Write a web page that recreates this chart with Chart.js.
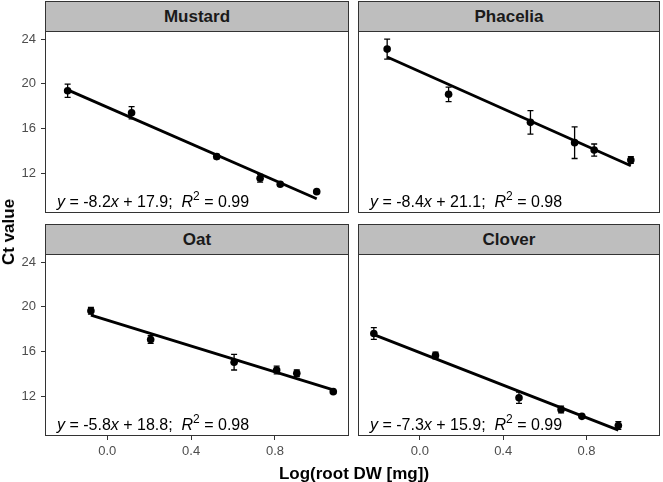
<!DOCTYPE html>
<html>
<head>
<meta charset="utf-8">
<script src="https://cdn.jsdelivr.net/npm/chart.js@4.4.1/dist/chart.umd.min.js"></script>
<style>
  body { margin: 0; width: 663px; height: 482px; position: relative; background: #fff; overflow: hidden;
         font-family: "Liberation Sans", Arial, sans-serif; }
  canvas { position: absolute; }
  .strip { position: absolute; box-sizing: border-box; background: #bebebe; border: 1px solid #333;
           color: #1a1a1a; font-weight: bold; font-size: 17px; text-align: center; line-height: 29px; }
  .title { position: absolute; font-weight: bold; font-size: 17px; color: #000; white-space: nowrap; }
</style>
</head>
<body>
<script>
// panel names
const panelNames = ['Mustard', 'Phacelia', 'Oat', 'Clover'];

// log(root DW) per panel
const mustardX  = [-0.189, 0.116, 0.522, 0.729, 0.825, 0.999];
const phaceliaX = [-0.157, 0.138, 0.531, 0.743, 0.837, 1.013];
const oatX      = [-0.078, 0.207, 0.605, 0.808, 0.904, 1.078];
const cloverX   = [-0.221, 0.075, 0.476, 0.678, 0.778, 0.953];

// mean Ct value
const mustardY  = [19.37, 17.4, 13.47, 11.53, 11.0, 10.33];
const phaceliaY = [23.1, 19.05, 16.54, 14.72, 14.06, 13.17];
const oatY      = [19.64, 17.06, 15.03, 14.33, 14.03, 12.39];
const cloverY   = [17.6, 15.64, 11.85, 10.79, 10.18, 9.36];

// error bar half widths
const mustardErr  = [0.6, 0.55, 0.2, 0.35, 0.15, 0.1];
const phaceliaErr = [0.9, 0.65, 1.05, 1.42, 0.54, 0.3];
const oatErr      = [0.3, 0.35, 0.7, 0.35, 0.3, 0.1];
const cloverErr   = [0.53, 0.3, 0.5, 0.3, 0.1, 0.35];

// fitted line, y at first and last point
const mustardFit  = [19.45, 9.7];
const phaceliaFit = [22.4, 12.65];
const oatFit      = [19.25, 12.55];
const cloverFit   = [17.5, 8.95];

// equation labels
const eqSlope     = [-8.2, -8.4, -5.8, -7.3];
const eqIntercept = [17.9, 21.1, 18.8, 15.9];
const eqR2        = [0.99, 0.98, 0.98, 0.99];

// tick labels
const xTicks = [0.0, 0.4, 0.8];
const yTicks = [12, 16, 20, 24];

const FONT = '"Liberation Sans", Arial, sans-serif';

// panel rects: left, top, width, height
const panels = [
  {l: 45,  t: 31,  w: 304, h: 182, showX: false, showY: true},
  {l: 358, t: 31,  w: 302, h: 182, showX: false, showY: false},
  {l: 45,  t: 254, w: 304, h: 182, showX: true,  showY: true},
  {l: 358, t: 254, w: 302, h: 182, showX: true,  showY: false}
];
const allX   = [mustardX, phaceliaX, oatX, cloverX];
const allY   = [mustardY, phaceliaY, oatY, cloverY];
const allErr = [mustardErr, phaceliaErr, oatErr, cloverErr];
const allFit = [mustardFit, phaceliaFit, oatFit, cloverFit];

//error bars drawn through the chart scales
const errorBars = {
  id: 'errorBars',
  afterDatasetsDraw(chart) {
    const idx = chart.options.plugins.errorBars.idx;
    const xs = allX[idx], ys = allY[idx], es = allErr[idx];
    const sx = chart.scales.x, sy = chart.scales.y;
    const ctx = chart.ctx;
    ctx.save();
    ctx.strokeStyle = '#000';
    ctx.lineWidth = 1.3;
    for (let i = 0; i < xs.length; i++) {
      const px = sx.getPixelForValue(xs[i]);
      const top = sy.getPixelForValue(ys[i] + es[i]);
      const bot = sy.getPixelForValue(ys[i] - es[i]);
      ctx.beginPath();
      ctx.moveTo(px, top); ctx.lineTo(px, bot);
      ctx.moveTo(px - 3, top); ctx.lineTo(px + 3, top);
      ctx.moveTo(px - 3, bot); ctx.lineTo(px + 3, bot);
      ctx.stroke();
    }
    ctx.restore();
  }
};

//panel border + regression equation
const panelDeco = {
  id: 'panelDeco',
  afterDraw(chart) {
    const idx = chart.options.plugins.errorBars.idx;
    const a = chart.chartArea, ctx = chart.ctx;
    ctx.save();
    ctx.strokeStyle = '#333';
    ctx.lineWidth = 1;
    ctx.strokeRect(a.left + 0.5, a.top + 0.5, a.right - a.left - 1, a.bottom - a.top - 1);

    const size = 16;
    const reg = size + 'px ' + FONT;
    const ita = 'italic ' + reg;
    const sup = Math.round(size * 0.72) + 'px ' + FONT;
    const parts = [
      [ita, 'y', 0],
      [reg, ' = ' + eqSlope[idx].toFixed(1), 0],
      [ita, 'x', 0],
      [reg, ' + ' + eqIntercept[idx].toFixed(1) + ';  ', 0],
      [ita, 'R', 0],
      [sup, '2', -size * 0.42],
      [reg, ' = ' + eqR2[idx].toFixed(2), 0]
    ];
    let x = a.left + 12;
    const y = a.bottom - 6;
    ctx.fillStyle = '#000';
    ctx.textBaseline = 'alphabetic';
    ctx.textAlign = 'left';
    for (const p of parts) {
      ctx.font = p[0];
      ctx.fillText(p[1], x, y + p[2]);
      x += ctx.measureText(p[1]).width;
    }
    ctx.restore();
  }
};

for (let i = 0; i < panels.length; i++) {
  const p = panels[i];

  //strip
  const strip = document.createElement('div');
  strip.className = 'strip';
  strip.style.left = p.l + 'px';
  strip.style.top = (p.t - 30) + 'px';
  strip.style.width = p.w + 'px';
  strip.style.height = '31px';
  strip.textContent = panelNames[i];
  document.body.appendChild(strip);

  const cv = document.createElement('canvas');
  cv.width = p.w + 45;
  cv.height = p.h + 30;
  cv.style.left = (p.l - 45) + 'px';
  cv.style.top = p.t + 'px';
  document.body.appendChild(cv);

  const xs = allX[i], ys = allY[i], fit = allFit[i];
  new Chart(cv, {
    type: 'scatter',
    data: {
      datasets: [
        {
          type: 'line',
          data: [{x: xs[0], y: fit[0]}, {x: xs[xs.length - 1], y: fit[1]}],
          borderColor: '#000',
          borderWidth: 2.8,
          pointRadius: 0,
          fill: false
        },
        {
          data: xs.map((x, k) => ({x: x, y: ys[k]})),
          backgroundColor: '#000',
          borderWidth: 0,
          pointRadius: 3.8
        }
      ]
    },
    options: {
      responsive: false,
      animation: false,
      devicePixelRatio: 1,
      events: [],
      layout: {padding: 0, autoPadding: false},
      plugins: {legend: {display: false}, tooltip: {enabled: false}, errorBars: {idx: i}},
      scales: {
        x: {
          type: 'linear', min: -0.297, max: 1.153,
          afterBuildTicks: s => { s.ticks = xTicks.map(v => ({value: v})); },
          afterFit: s => { s.height = 30; s.paddingLeft = 0; s.paddingRight = 0; },
          border: {display: false},
          grid: {display: p.showX, drawOnChartArea: false, tickLength: 4, tickColor: '#333'},
          ticks: {display: p.showX, color: '#4d4d4d', padding: 4, font: {family: FONT, size: 13},
                  callback: v => v.toFixed(1)}
        },
        y: {
          type: 'linear', min: 8.42, max: 24.72,
          afterBuildTicks: s => { s.ticks = yTicks.map(v => ({value: v})); },
          afterFit: s => { s.width = 45; s.paddingTop = 0; s.paddingBottom = 0; },
          border: {display: false},
          grid: {display: p.showY, drawOnChartArea: false, tickLength: 4, tickColor: '#333'},
          ticks: {display: p.showY, color: '#4d4d4d', padding: 5, font: {family: FONT, size: 13}}
        }
      }
    },
    plugins: [errorBars, panelDeco]
  });
}

//axis titles
const xt = document.createElement('div');
xt.className = 'title';
xt.textContent = 'Log(root DW [mg])';
xt.style.left = '354px';
xt.style.top = '464px';
xt.style.transform = 'translateX(-50%)';
document.body.appendChild(xt);

const yt = document.createElement('div');
yt.className = 'title';
yt.textContent = 'Ct value';
yt.style.left = '9px';
yt.style.top = '232px';
yt.style.transform = 'translate(-50%, -50%) rotate(-90deg)';
document.body.appendChild(yt);
</script>
</body>
</html>
